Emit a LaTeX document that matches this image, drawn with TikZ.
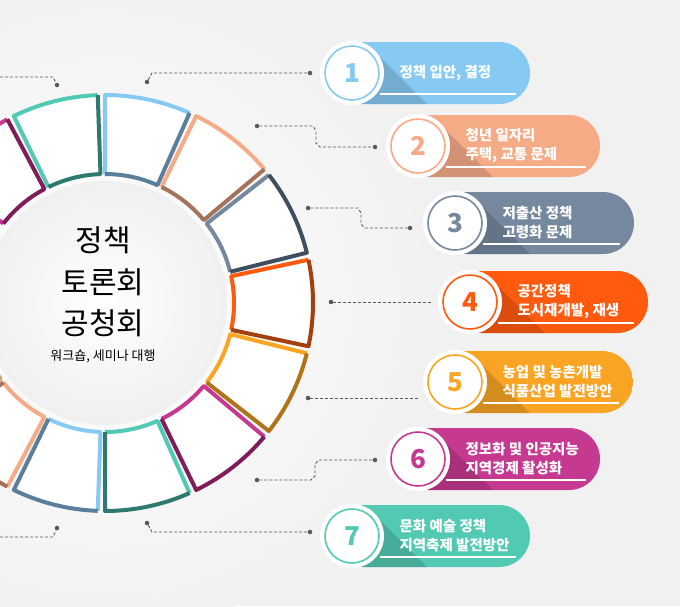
\documentclass[tikz,border=0pt]{standalone}
\usepackage{fontspec}
\setmainfont{Noto Sans CJK KR}
\usetikzlibrary{calc}
\definecolor{bg}{HTML}{F1F1F1}
\definecolor{cBlue}{HTML}{86C9F2}\definecolor{dBlue}{HTML}{5B7F9A}
\definecolor{cSal}{HTML}{F6AB87}\definecolor{dSal}{HTML}{A5735C}
\definecolor{cGray}{HTML}{75889E}\definecolor{dGray}{HTML}{3F4F60}
\definecolor{cRed}{HTML}{FF5A0E}\definecolor{dRed}{HTML}{A3400F}
\definecolor{cOr}{HTML}{F9A423}\definecolor{dOr}{HTML}{B07418}
\definecolor{cMag}{HTML}{C53A90}\definecolor{dMag}{HTML}{7E1D5A}
\definecolor{cTeal}{HTML}{52C9B3}\definecolor{dTeal}{HTML}{2E7A6E}
\tikzset{
 conn/.style={densely dashed,gray!70!black,line width=0.9pt},
 dotc/.style={circle,fill=gray!70!black,inner sep=1.6pt},
 ptext/.style={white,font=\bfseries\fontsize{14.5}{19}\selectfont,anchor=west,align=left},
 big/.style={font=\fontsize{30}{30}\selectfont},
}
\newcommand{\segfill}[1]{\fill[white] (#1+12:127) arc[start angle=#1+12,end angle=#1-12,radius=127] -- (#1-12:210) arc[start angle=#1-12,end angle=#1+12,radius=210] -- cycle;}
\newcommand{\seg}[3]{% upper: outer light, inner dark
 \segfill{#1}
 \draw[#2,line width=4pt,line join=round] (#1+12:129) -- (#1+12:208) arc[start angle=#1+12,end angle=#1-12,radius=208];
 \draw[#3,line width=4pt,line join=round] (#1-12:208) -- (#1-12:129) arc[start angle=#1-12,end angle=#1+12,radius=129];
}
\newcommand{\segb}[3]{% inner light, outer dark
 \segfill{#1}
 \draw[#2,line width=4pt,line join=round] (#1-12:129) arc[start angle=#1-12,end angle=#1+12,radius=129] -- (#1+12:208);
 \draw[#3,line width=4pt,line join=round] (#1+12:208) arc[start angle=#1+12,end angle=#1-12,radius=208] -- (#1-12:129);
}
\newcommand{\pill}[7]{% name cx cy x2 col num text
 \begin{scope}
 \path[clip,rounded corners=31pt] (#2-20,#3-31) rectangle (#4,#3+31);
 \fill[#5] (#2-40,#3-40) rectangle (#4,#3+40);
 \fill[black,opacity=.14] (#2+22,#3-22) -- (#2+140,#3+96) -- (#2+96,#3+140) -- (#2-22,#3+22) -- cycle;
 \end{scope}
 \draw[white,line width=1.5pt] (#2+28,#3+21) -- (#4-14,#3+21);
 \node[circle,fill=white,minimum size=64pt,inner sep=0pt] (#1) at (#2,#3) {};
 \draw[#5,line width=1.6pt] (#1) circle[radius=27pt];
 \node[#5,font=\bfseries\fontsize{26}{26}\selectfont] at (#2,#3) {#6};
 \node[ptext] at (#2+44,#3) {#7};
}
\begin{document}
\begin{tikzpicture}[x=1pt,y=-1pt]
\useasboundingbox (0,0) rectangle (680,606);
\fill[bg] (0,0) rectangle (680,606);
\shade[inner color=white,outer color=bg] (105,303) circle[radius=330];
\begin{scope}[shift={(105,303)},yscale=-1]
 \shade[inner color=white,outer color=gray!12] (0,0) circle[radius=122];
 \seg{78}{cBlue}{dBlue}
 \seg{52}{cSal}{dSal}
 \segb{26}{cGray}{dGray}
 \segb{0}{cRed}{dRed}
 \segb{-26}{cOr}{dOr}
 \segb{-52}{cMag}{dMag}
 \segb{-78}{cTeal}{dTeal}
 \segb{-104}{cBlue}{dBlue}
 \segb{-130}{cSal}{dSal}
 \segb{-156}{brown!70}{brown}
 \seg{104}{cTeal}{dTeal}
 \seg{130}{cMag}{dMag}
\end{scope}
\node[big] (t1) at (103,240) {정책};
\node[big] (t2) at (103,282) {토론회};
\node[big] (t3) at (103,323) {공청회};
\node[font=\fontsize{13}{13}\selectfont] (t4) at (103,356) {워크숍, 세미나 대행};
% connectors
\node[dotc] (a1) at (147,82) {}; \node[dotc] (b1) at (310,73) {};
\draw[conn] (a1) -- (152,73) -- (b1);
\node[dotc] (a2) at (257,126) {}; \node[dotc] (b2) at (375,147) {};
\draw[conn] (a2) -- (313,126) -- (316,131) -- (316,143) -- (320,147) -- (b2);
\node[dotc] (a3) at (308,208) {}; \node[dotc] (b3) at (410,228) {};
\draw[conn] (a3) -- (358,208) -- (361,213) -- (361,224) -- (365,228) -- (b3);
\node[dotc] (a4) at (331,302) {};
\coordinate (b4) at (432,302);
\draw[conn] (a4) -- (b4);
\node[dotc] (a5) at (308,398) {};
\coordinate (b5) at (420,398);
\draw[conn] (a5) -- (b5);
\node[dotc] (a6) at (257,480) {}; \node[dotc] (b6) at (375,460) {};
\draw[conn] (a6) -- (311,480) -- (315,476) -- (315,464) -- (319,460) -- (b6);
\node[dotc] (a7) at (147,523) {}; \node[dotc] (b7) at (310,532) {};
\draw[conn] (a7) -- (152,532) -- (b7);
\node[dotc] (l1) at (57,85) {};
\draw[conn] (0,77) -- (53,77) -- (l1);
\node[dotc] (l2) at (57,528) {};
\draw[conn] (0,537) -- (53,537) -- (l2);
% pills
\pill{p1}{352}{73}{530}{cBlue}{1}{정책 입안, 결정}
\pill{p2}{418}{146}{600}{cSal}{2}{청년 일자리\\주택, 교통 문제}
\pill{p3}{455}{223}{634}{cGray}{3}{저출산 정책\\고령화 문제}
\pill{p4}{470}{302}{648}{cRed}{4}{공간정책\\도시재개발, 재생}
\pill{p5}{455}{382}{633}{cOr}{5}{농업 및 농촌개발\\식품산업 발전방안}
\pill{p6}{418}{459}{600}{cMag}{6}{정보화 및 인공지능\\지역경제 활성화}
\pill{p7}{352}{536}{530}{cTeal}{7}{문화 예술 정책\\지역축제 발전방안}
\end{tikzpicture}
\end{document}
